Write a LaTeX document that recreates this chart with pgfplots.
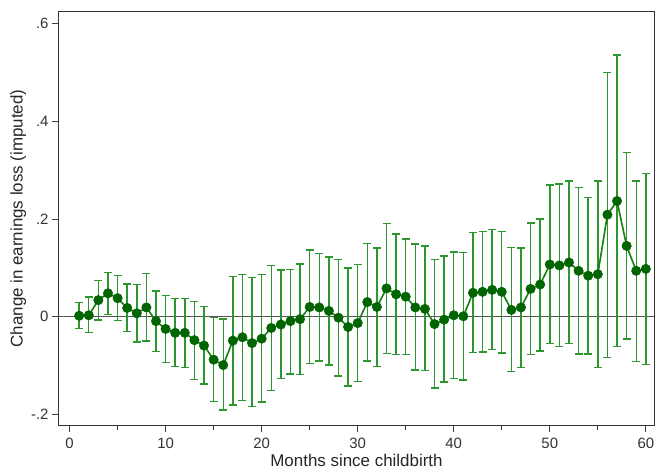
\documentclass[border=0pt]{standalone}
\usepackage{pgfplots}
\pgfplotsset{compat=1.18}
\usepackage{pgfplotstable}
\usepackage{fontspec}
\setmainfont{Liberation Sans}
\definecolor{mkgreen}{RGB}{0,100,0}
\definecolor{cigreen}{RGB}{45,150,45}
\definecolor{lngreen}{RGB}{20,125,20}
\definecolor{zeroline}{RGB}{85,85,85}
\pgfplotstableread{
m y lo hi
1 0.002 -0.024 0.029
2 0.003 -0.032 0.040
3 0.034 -0.007 0.074
4 0.048 0.005 0.091
5 0.038 -0.008 0.084
6 0.018 -0.030 0.067
7 0.007 -0.052 0.066
8 0.019 -0.050 0.089
9 -0.009 -0.071 0.053
10 -0.025 -0.094 0.044
11 -0.033 -0.102 0.037
12 -0.033 -0.104 0.037
13 -0.048 -0.128 0.031
14 -0.059 -0.138 0.021
15 -0.088 -0.174 -0.002
16 -0.099 -0.191 -0.005
17 -0.049 -0.181 0.082
18 -0.042 -0.171 0.087
19 -0.054 -0.184 0.080
20 -0.045 -0.175 0.087
21 -0.023 -0.151 0.105
22 -0.016 -0.127 0.096
23 -0.009 -0.117 0.097
24 -0.005 -0.118 0.108
25 0.020 -0.096 0.137
26 0.019 -0.091 0.130
27 0.012 -0.099 0.122
28 -0.002 -0.121 0.117
29 -0.021 -0.142 0.100
30 -0.013 -0.133 0.107
31 0.030 -0.091 0.150
32 0.020 -0.102 0.141
33 0.058 -0.075 0.191
34 0.046 -0.077 0.169
35 0.041 -0.077 0.159
36 0.019 -0.109 0.149
37 0.016 -0.110 0.145
38 -0.015 -0.146 0.117
39 -0.006 -0.134 0.124
40 0.003 -0.127 0.133
41 0.001 -0.130 0.132
42 0.049 -0.073 0.173
43 0.051 -0.072 0.175
44 0.055 -0.067 0.179
45 0.051 -0.074 0.175
46 0.014 -0.112 0.142
47 0.019 -0.104 0.141
48 0.057 -0.077 0.192
49 0.066 -0.070 0.200
50 0.107 -0.055 0.270
51 0.105 -0.061 0.272
52 0.111 -0.055 0.278
53 0.094 -0.076 0.265
54 0.084 -0.076 0.244
55 0.087 -0.104 0.278
56 0.209 -0.083 0.500
57 0.237 -0.061 0.536
58 0.145 -0.046 0.336
59 0.094 -0.092 0.278
60 0.098 -0.098 0.293
}\datatable
\begin{document}
\begin{tikzpicture}
\useasboundingbox (-59bp,-45bp) rectangle (598bp,425bp);
\begin{axis}[
  at={(0,0)}, anchor=south west,
  scale only axis, width=595bp, height=413bp,
  xmin=-1.1, xmax=60.85, ymin=-0.2217, ymax=0.624,
  xtick={0,10,...,60}, minor xtick={5,15,...,55},
  ytick={-0.2,0,0.2,0.4,0.6}, yticklabels={-.2,0,.2,.4,.6},
  tick pos=left, tick align=outside,
  major tick length=7bp, minor tick length=5bp,
  tick style={line width=1bp, black!75},
  axis line style={line width=1bp, black!80},
  /pgf/number format/assume math mode=true,
  ticklabel style={font=\fontsize{15}{18}\selectfont, text=black!80},
  xticklabel style={yshift=-3bp},
  label style={font=\fontsize{17}{20}\selectfont, text=black!85},
  xlabel={Months since childbirth},
  ylabel={Change in earnings loss (imputed)},
  xlabel style={at={(axis description cs:0.5,0)}, anchor=base, yshift=-41bp},
  ylabel style={yshift=-2bp},
  clip=false,
]
\addplot[zeroline, line width=1.5bp, forget plot] coordinates {(-1.1,0) (60.85,0)};
\addplot[cigreen, only marks, mark=none, forget plot,
  error bars/.cd, y dir=both, y explicit, error mark=|,
  error bar style={draw=cigreen, line width=1.45bp},
  error mark options={draw=cigreen, line width=1.45bp, mark size=4bp}]
  table[x=m, y=y, y error plus expr=\thisrow{hi}-\thisrow{y}, y error minus expr=\thisrow{y}-\thisrow{lo}] {\datatable};
\addplot[lngreen, line width=1.6bp, mark=*, mark size=4.7bp,
  mark options={fill=mkgreen, draw=mkgreen, line width=0.5bp}]
  table[x=m, y=y] {\datatable};
\end{axis}
\end{tikzpicture}
\end{document}
